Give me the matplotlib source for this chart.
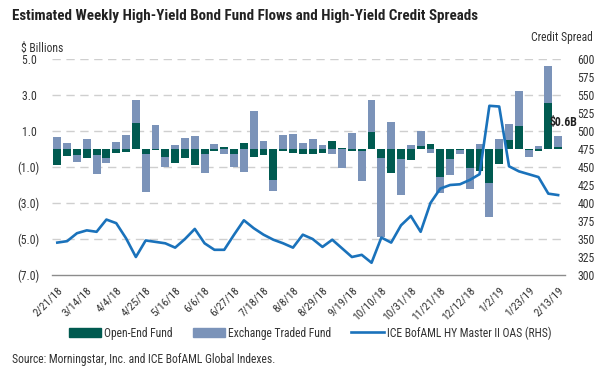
import matplotlib
matplotlib.use("Agg")
import matplotlib.pyplot as plt
from matplotlib import font_manager
from matplotlib.patches import Patch
from matplotlib.lines import Line2D
import numpy as np

# weekly flows, $ billions (2/21/18 .. 2/13/19)
open_end = [-0.9, -0.4, -0.35, -0.5, -0.35, -0.5, -0.2, -0.15, 1.45, -0.3,
            -0.05, -0.45, -0.8, -0.5, -0.9, -0.25, -0.1, 0.1, -0.3, 0.35,
            -0.45, -0.35, -1.7, -0.1, -0.2, -0.25, -0.25, -0.2, 0.45, 0.05,
            -0.1, -0.1, 0.95, -0.5, -1.35, -0.55, -0.6, 0.15, 0.3, -1.55,
            -0.55, -0.05, -1.05, -1.2, -1.9, -0.85, 0.5, 1.3, -0.05, -0.1,
            2.55, 0.1]
etf = [0.65, 0.35, -0.35, 0.55, -1.05, -0.3, 0.4, 0.8, 1.3, -2.1,
       1.35, -0.55, 0.25, 0.6, 0.75, -1.1, 0.3, -0.25, -0.7, -1.25,
       2.1, 0.45, -0.65, 0.8, 0.85, 0.33, 0.55, 0.2, -0.3, -1.05,
       0.9, -1.65, 1.75, -4.4, 1.5, -2.0, 0.2, 0.85, -0.2, -0.9,
       -0.9, -0.2, -1.15, 0.3, -1.85, 0.55, 0.9, 1.9, -0.4, 0.15,
       2.05, 0.6]
# ICE BofAML HY Master II OAS, bp
oas = [345, 347, 358, 362, 360, 377, 372, 351, 325, 348,
       346, 344, 338, 350, 364, 344, 335, 335, 356, 376,
       365, 356, 349, 344, 338, 356, 350, 339, 349, 337,
       325, 328, 317, 352, 345, 369, 382, 360, 400, 420,
       425, 426, 432, 440, 535, 534, 451, 444, 440, 436,
       413, 411]

tick_labels = ["2/21/18", "3/14/18", "4/4/18", "4/25/18", "5/16/18", "6/6/18",
               "6/27/18", "7/18/18", "8/8/18", "8/29/18", "9/19/18", "10/10/18",
               "10/31/18", "11/21/18", "12/12/18", "1/2/19", "1/23/19", "2/13/19"]
left_ticks = [5, 3, 1, -1, -3, -5, -7]
left_tick_labels = ["5.0 ", "3.0 ", "1.0 ", "(1.0)", "(3.0)", "(5.0)", "(7.0)"]
right_ticks = list(range(300, 601, 25))
last_label = "$0.6B"

DARK = "#005a50"
LIGHT = "#7b93b9"
BLUE = "#1a72bb"
TXT = "#333333"

names = {f.name for f in font_manager.fontManager.ttflist}
narrow = next((n for n in ["Liberation Sans Narrow", "DejaVu Sans Condensed",
                           "Roboto Condensed"] if n in names), "Liberation Sans")
plt.rcParams["font.family"] = [narrow, "DejaVu Sans"]
plt.rcParams["font.size"] = 8

oe = np.array(open_end)
et = np.array(etf)
x = np.arange(len(oe))
# excel-style stacking: same sign stacks on the open-end bar, else from zero
et_bottom = np.where(np.sign(et) == np.sign(oe), oe, 0.0)

fig = plt.figure(figsize=(6, 3.7), dpi=100)
ax = fig.add_axes([52 / 600, 1 - 275 / 370, (565 - 52) / 600, (275 - 59) / 370])

ax.bar(x, oe, width=0.8, color=DARK, zorder=2)
ax.bar(x, et, bottom=et_bottom, width=0.8, color=LIGHT, zorder=2)

ax.set_xlim(-0.54, len(x) - 0.3)
ax.set_ylim(-7, 5)
ax.set_yticks(left_ticks)
ax.set_yticklabels(left_tick_labels)
for y in left_ticks[:-1]:
    ax.axhline(y, color="#cfcfcf", lw=1.0, ls=(0, (6, 4)), zorder=1)

ax.set_xticks(x[::3])
ax.set_xticklabels(tick_labels, rotation=45, ha="right", rotation_mode="anchor")
ax.tick_params(axis="x", length=0, pad=7, colors=TXT, labelsize=8.2)
ax.tick_params(axis="y", length=0, pad=9, colors=TXT, labelsize=8.5)
for s in ["top", "right", "left"]:
    ax.spines[s].set_visible(False)
ax.spines["bottom"].set_color("#8c8c8c")
ax.spines["bottom"].set_linewidth(1.0)

ax2 = ax.twinx()
ax2.plot(x, oas, color=BLUE, lw=1.9, zorder=3)
ax2.set_ylim(300, 600)
ax2.set_yticks(right_ticks)
ax2.tick_params(axis="y", length=0, pad=9, colors=TXT, labelsize=8.5)
for s in ax2.spines.values():
    s.set_visible(False)

top = oe[-1] + max(et[-1], 0)
ax.annotate(last_label, (x[-1], top), xytext=(4, 10), textcoords="offset points",
            ha="center", va="center", fontsize=8.5, fontweight="bold", color="#222222")

fig.text(12 / 600, 1 - 16 / 370,
         "Estimated Weekly High-Yield Bond Fund Flows and High-Yield Credit Spreads",
         fontsize=10.8, fontweight="bold", color="#222222", va="center", ha="left")
fig.text(21 / 600, 1 - 48 / 370, "$ Billions", fontsize=8.4, color=TXT,
         va="center", ha="left")
fig.text(593 / 600, 1 - 38 / 370, "Credit Spread", fontsize=8.4, color=TXT,
         va="center", ha="right")

handles = [Patch(color=DARK, label="Open-End Fund"),
           Patch(color=LIGHT, label="Exchange Traded Fund"),
           Line2D([], [], color=BLUE, lw=1.9, label="ICE BofAML HY Master II OAS (RHS)")]
fig.legend(handles=handles, loc="center", bbox_to_anchor=(310 / 600, 1 - 333 / 370),
           ncol=3, frameon=False, fontsize=8.4, handlelength=2.8, handleheight=0.85,
           handletextpad=0.25, columnspacing=1.7, labelcolor=TXT)

fig.text(12 / 600, 1 - 360 / 370, "Source: Morningstar, Inc. and ICE BofAML Global Indexes.",
         fontsize=8.4, color=TXT, va="center", ha="left")

fig.savefig("out.png", dpi=100)
